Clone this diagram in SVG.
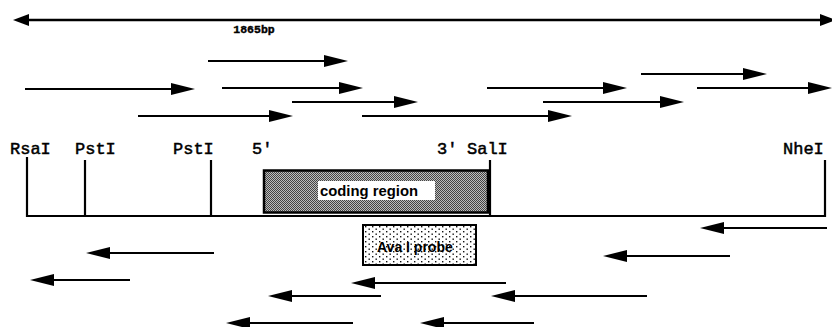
<svg xmlns="http://www.w3.org/2000/svg" width="832" height="327" viewBox="0 0 832 327">
<defs>
<style>
.ln{stroke:#000;stroke-width:2.2;fill:none}
.f{marker-end:url(#h)}
.r{marker-start:url(#h)}
.site{font-family:"Liberation Mono","Courier New",monospace;font-size:17px;fill:#000;stroke:#000;stroke-width:0.5}
.lab{font-family:"Liberation Sans",Arial,sans-serif;font-weight:bold;font-size:14px;fill:#000}
.bp{font-family:"Liberation Mono","Courier New",monospace;font-weight:bold;font-size:11.5px;fill:#000;stroke:#000;stroke-width:0.4}
</style>
<marker id="h" markerUnits="userSpaceOnUse" markerWidth="24" markerHeight="13" viewBox="0 0 24 13" refX="14" refY="6.5" orient="auto-start-reverse">
<path d="M0,0.5 L24,6.5 L0,12.5 z" fill="#000"/>
</marker>
<marker id="hb" markerUnits="userSpaceOnUse" markerWidth="16" markerHeight="13" viewBox="0 0 16 13" refX="6" refY="6.5" orient="auto-start-reverse">
<path d="M0,0.5 L16,6.5 L0,12.5 z" fill="#000"/>
</marker>
<pattern id="dark" width="2" height="2" patternUnits="userSpaceOnUse">
<rect width="2" height="2" fill="#bdbdbd"/>
<rect width="1" height="1" fill="#444"/>
<rect x="1" y="1" width="1" height="1" fill="#444"/>
</pattern>
<pattern id="dots" width="7" height="5" patternUnits="userSpaceOnUse">
<rect width="7" height="5" fill="#fff"/>
<rect x="1" y="1" width="1.4" height="1.4" fill="#111"/>
<rect x="4.5" y="3.5" width="1.4" height="1.4" fill="#111"/>
</pattern>
</defs>
<rect width="832" height="327" fill="#fff"/>

<g id="scale">
<line x1="23" y1="20" x2="826" y2="20" stroke="#000" stroke-width="2.5" marker-start="url(#hb)" marker-end="url(#hb)"/>
<text class="bp" x="254" y="33" text-anchor="middle">1865bp</text>
</g>

<g id="map">
<line x1="27" y1="216" x2="826" y2="216" class="ln"/>
</g>

<g id="RsaI">
<text class="site" x="10" y="154">RsaI</text>
<line x1="27" y1="157" x2="27" y2="217" class="ln"/>
</g>
<g id="PstI1">
<text class="site" x="75" y="154">PstI</text>
<line x1="85" y1="160" x2="85" y2="217" class="ln"/>
</g>
<g id="PstI2">
<text class="site" x="173" y="154">PstI</text>
<line x1="211" y1="160" x2="211" y2="217" class="ln"/>
</g>
<g id="five">
<text class="site" x="252" y="154">5'</text>
</g>
<g id="three">
<text class="site" x="437" y="154">3'</text>
</g>
<g id="SalI">
<text class="site" x="467" y="154">SalI</text>
<line x1="490" y1="160" x2="490" y2="217" class="ln"/>
</g>
<g id="NheI">
<text class="site" x="783" y="154">NheI</text>
<line x1="825" y1="160" x2="825" y2="217" class="ln"/>
</g>

<g id="coding">
<rect x="264" y="170.5" width="224" height="42" fill="url(#dark)" stroke="#000" stroke-width="2.5"/>
<rect x="318" y="181" width="117" height="19" fill="#fff"/>
<text class="lab" x="320" y="196" font-size="14.5" textLength="98" lengthAdjust="spacingAndGlyphs">coding region</text>
</g>

<g id="probe">
<rect x="363" y="225" width="113" height="40" fill="url(#dots)" stroke="#000" stroke-width="2"/>
<text class="lab" x="377" y="252">Ava I probe</text>
</g>

<g id="connectors">
<line class="ln f" x1="208" y1="61" x2="338" y2="61"/>
<line class="ln f" x1="25" y1="89" x2="185" y2="89"/>
<line class="ln f" x1="222" y1="88" x2="353" y2="88"/>
<line class="ln f" x1="292" y1="102" x2="408" y2="102"/>
<line class="ln f" x1="138" y1="116" x2="283" y2="116"/>
<line class="ln f" x1="362" y1="116" x2="562" y2="116"/>
<line class="ln f" x1="487" y1="88" x2="617" y2="88"/>
<line class="ln f" x1="641" y1="74" x2="757" y2="74"/>
<line class="ln f" x1="543" y1="102" x2="674" y2="102"/>
<line class="ln f" x1="697" y1="88" x2="822" y2="88"/>
<line class="ln r" x1="96" y1="253" x2="214" y2="253"/>
<line class="ln r" x1="40" y1="280" x2="130" y2="280"/>
<line class="ln r" x1="361" y1="283" x2="506" y2="283"/>
<line class="ln r" x1="278" y1="296" x2="381" y2="296"/>
<line class="ln r" x1="236" y1="323" x2="353" y2="323"/>
<line class="ln r" x1="710" y1="228" x2="827" y2="228"/>
<line class="ln r" x1="613" y1="256" x2="730" y2="256"/>
<line class="ln r" x1="501" y1="296" x2="647" y2="296"/>
<line class="ln r" x1="430" y1="323" x2="534" y2="323"/>
</g>
</svg>
